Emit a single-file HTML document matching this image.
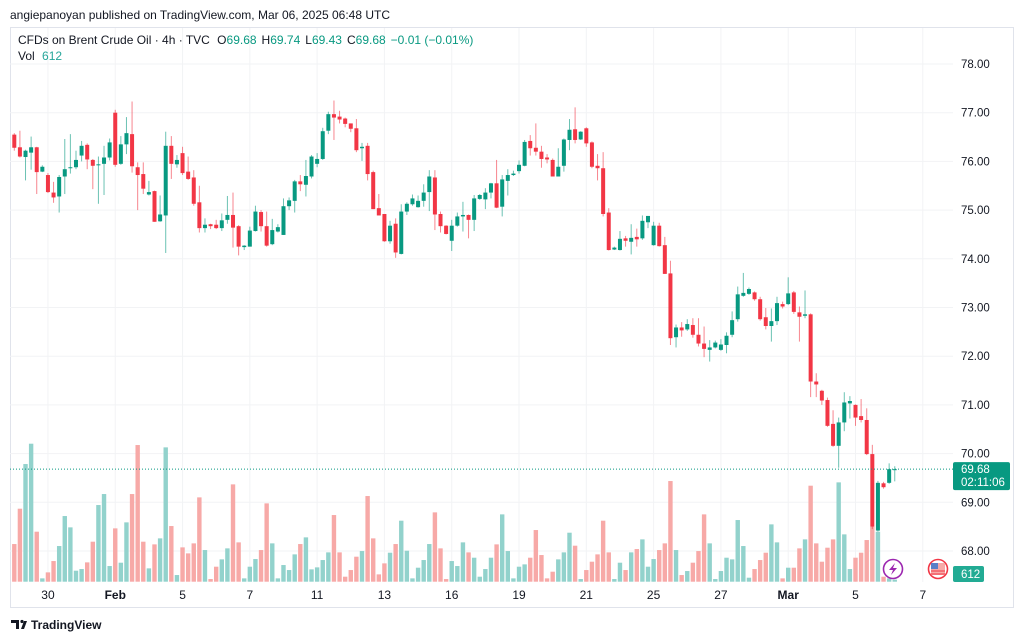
<!DOCTYPE html>
<html><head><meta charset="utf-8"><style>
html,body{margin:0;padding:0;background:#fff;}
svg{display:block;font-family:"Liberation Sans",sans-serif;}
</style></head><body>
<svg id="chart" width="1024" height="641" viewBox="0 0 1024 641" xmlns="http://www.w3.org/2000/svg">
<defs><clipPath id="plotclip"><rect x="10" y="27" width="943" height="555"/></clipPath></defs>
<rect x="0" y="0" width="1024" height="641" fill="#ffffff"/>
<text x="10" y="19" font-size="12" fill="#131722">angiepanoyan published on TradingView.com, Mar 06, 2025 06:48 UTC</text>
<rect x="10.5" y="27.5" width="1003" height="580" fill="none" stroke="#e0e3eb"/>
<g id="grid"></g>
<g id="vol" clip-path="url(#plotclip)"></g>
<g id="candles" clip-path="url(#plotclip)"></g>
<g id="axes"></g>
<text x="18" y="44" font-size="12" fill="#131722">CFDs on Brent Crude Oil · 4h · TVC <tspan dx="4">O</tspan><tspan fill="#089981">69.68</tspan><tspan dx="5">H</tspan><tspan fill="#089981">69.74</tspan><tspan dx="5">L</tspan><tspan fill="#089981">69.43</tspan><tspan dx="5">C</tspan><tspan fill="#089981">69.68</tspan><tspan dx="5" fill="#089981">−0.01 (−0.01%)</tspan></text>
<text x="18" y="60" font-size="12" fill="#131722">Vol <tspan dx="4" fill="#26a69a">612</tspan></text>
<g><circle cx="893" cy="569" r="9.5" fill="#fff" stroke="#9c27b0" stroke-width="1.6"/><path d="M895 563 L889 570 L893 570 L891 575 L897 568 L893 568 Z" fill="#9c27b0"/></g>
<g><circle cx="938" cy="569" r="9.5" fill="#fff" stroke="#f23645" stroke-width="1.6"/><rect x="931" y="563" width="14" height="12" fill="#f7a9a7"/><rect x="931" y="563" width="7" height="6" fill="#5b7fc7"/><line x1="931" y1="571" x2="945" y2="571" stroke="#f23645"/><line x1="931" y1="574" x2="945" y2="574" stroke="#f23645"/></g>
<g><path d="M11 620 h8 v9 h-3 v-6 h-5 z" fill="#131722"/><circle cx="22" cy="621.5" r="1.6" fill="#131722"/><path d="M21 629 l3-8 h3 l-3 8 z" fill="#131722"/><text x="31" y="629" font-size="12" font-weight="bold" fill="#131722">TradingView</text></g>
</svg>
<script>
var opens=[76.55,76.29,76.09,76.18,76.29,75.79,75.72,75.36,75.28,75.69,75.86,75.88,76.12,76.34,76.03,75.93,75.95,76.08,77.00,75.95,76.35,76.56,75.88,75.74,75.32,75.39,74.77,74.89,76.32,75.94,
76.17,75.79,75.67,75.16,74.63,74.71,74.70,74.63,74.80,74.90,74.67,74.24,74.25,74.57,74.96,74.67,74.30,74.56,74.49,75.08,75.19,75.59,75.52,75.69,75.95,76.05,76.63,76.97,76.92,76.88,76.78,
76.68,76.27,76.32,75.78,75.04,74.92,74.36,74.72,74.10,74.97,75.12,75.06,75.19,75.37,75.67,74.92,74.68,74.37,74.68,74.87,74.90,74.80,75.23,75.22,75.36,75.55,75.07,75.60,75.72,75.80,75.91,76.42,
76.28,76.20,76.08,76.03,75.69,75.91,76.44,76.66,76.45,76.68,76.39,75.91,75.86,74.95,74.19,74.18,74.42,74.35,74.45,74.42,74.75,74.28,74.68,74.28,73.70,72.39,72.59,72.55,72.64,72.44,72.26,
72.13,72.18,72.13,72.23,72.44,72.76,73.24,73.28,73.31,73.17,72.80,72.62,72.72,73.07,73.07,73.31,72.90,72.83,72.86,71.48,71.29,71.10,70.61,70.16,70.64,71.03,71.00,70.77,70.69,69.99,68.42,69.39,69.40,69.68];
var closes=[76.28,76.10,76.22,76.29,75.78,75.89,75.37,75.26,75.68,75.84,75.88,76.03,76.32,76.04,75.91,75.94,76.08,76.39,75.93,76.35,76.58,75.90,75.72,75.44,75.37,74.76,74.91,76.32,75.95,76.03,
75.76,75.64,75.13,74.63,74.70,74.67,74.63,74.79,74.90,74.64,74.25,74.27,74.58,74.97,74.67,74.27,74.59,74.65,75.08,75.20,75.59,75.53,75.70,76.10,76.05,76.62,76.97,76.90,76.86,76.77,76.67,
76.23,76.30,75.74,75.02,74.89,74.36,74.68,74.13,74.97,75.13,75.24,75.19,75.36,75.69,74.91,74.67,74.51,74.68,74.87,74.90,74.80,75.24,75.31,75.36,75.55,75.05,75.63,75.72,75.75,75.93,76.40,76.27,
76.20,76.05,76.04,75.69,75.89,76.45,76.65,76.44,76.61,76.37,75.89,75.86,74.92,74.18,74.23,74.41,74.37,74.43,74.40,74.78,74.88,74.68,74.26,73.69,72.37,72.59,72.53,72.66,72.44,72.26,72.15,
72.18,72.28,72.24,72.42,72.74,73.27,73.30,73.38,73.17,72.76,72.62,72.72,73.09,73.02,73.29,72.91,72.81,72.86,71.48,71.42,71.09,70.57,70.16,70.64,71.05,71.08,70.74,70.69,69.99,68.50,69.40,69.31,69.68,69.68];
var highs=[76.58,76.63,76.24,76.51,76.30,75.92,75.76,75.58,75.72,76.46,76.56,76.22,76.42,76.37,76.05,76.10,76.32,76.47,77.06,76.52,76.91,77.23,75.98,75.98,75.60,75.40,75.30,76.61,76.52,76.13,
76.30,76.10,75.82,75.50,74.83,74.72,74.80,74.93,75.29,75.36,74.69,74.28,74.66,75.09,75.00,74.97,74.82,74.71,75.24,75.26,75.62,75.72,76.03,76.13,76.17,76.69,77.02,77.25,77.04,76.90,76.78,
76.87,76.38,76.38,75.81,75.33,74.92,74.78,74.83,75.12,75.16,75.32,75.30,75.53,75.82,75.82,74.97,74.69,74.80,74.95,75.17,74.91,75.31,75.33,75.45,75.56,76.03,75.72,75.84,75.81,76.02,76.44,76.54,
76.78,76.32,76.15,76.06,76.27,76.47,76.87,77.11,76.62,76.70,76.41,76.15,76.19,75.04,74.25,74.57,74.47,74.71,74.62,74.89,74.88,74.76,74.74,74.45,73.96,72.65,72.70,72.76,72.78,72.78,72.61,
72.33,72.32,72.35,72.49,72.92,73.43,73.71,73.41,73.33,73.22,72.99,72.98,73.22,73.12,73.62,73.34,73.02,73.35,72.88,71.65,71.31,71.15,70.89,70.74,71.26,71.18,71.01,71.12,70.93,70.18,69.44,69.42,69.80,69.74];
var lows=[76.22,76.08,75.61,75.83,75.33,75.78,75.35,75.15,74.95,75.33,75.75,75.84,76.00,75.84,75.43,75.13,75.31,76.02,75.89,75.93,76.15,75.77,75.00,75.33,75.30,74.76,74.76,74.12,75.64,75.87,
75.72,75.62,75.09,74.54,74.54,74.61,74.61,74.57,74.72,74.23,74.07,74.18,74.25,74.56,74.56,74.25,74.28,74.54,74.49,75.00,74.95,75.39,75.28,75.65,75.88,76.03,76.56,76.44,76.78,76.70,76.60,
76.19,76.01,75.61,75.02,74.89,74.35,74.31,74.02,74.09,74.90,75.09,75.05,75.07,74.98,74.59,74.54,74.50,74.16,74.66,74.56,74.42,74.57,75.21,75.02,75.24,75.04,74.87,75.30,75.70,75.75,75.90,76.12,
76.12,75.87,75.96,75.69,75.69,75.79,76.23,76.37,76.44,76.30,75.86,75.61,74.87,74.17,74.18,74.17,74.25,74.09,74.25,74.39,74.63,74.27,74.25,73.69,72.23,72.18,72.40,72.52,72.38,72.20,71.98,
71.89,72.16,72.11,72.06,72.39,72.71,73.22,73.26,73.14,72.73,72.55,72.30,72.64,72.98,73.05,72.87,72.30,72.78,71.16,71.16,71.00,70.55,70.14,69.71,70.46,70.72,70.57,70.64,69.97,68.45,68.40,69.28,69.38,69.43];
var volumes=[11.3,21.9,35.3,41.4,15,1,2.8,6.2,10.7,19.7,16.3,3.3,3.8,5.8,12,23,26.3,4.7,16,5.7,17.8,26.3,41,12,4,11.2,13,40.3,16.7,2,
10.3,8.5,11.5,25.3,9.5,0.8,4.5,6.7,10,29.2,11.8,1,4.5,6.8,9.5,23.5,11.5,1,5,3.5,8.2,11.3,13.3,3.7,4.3,6.5,8.8,20,8.8,1.5,3.5,
7.5,9.2,25.7,13,2.2,5.5,8.7,11.3,18.3,9.3,1,4.2,6.5,11.3,20.8,10,0.8,6.2,4.7,11.8,8.8,7.2,1.5,3.8,7.2,11.2,20.2,9.2,1,4.5,5.2,7.2,
15.5,8,1,3,6.7,8.8,14.7,10.8,0.8,3.5,6,8.2,18.3,8.8,0.8,5.7,3.5,8.8,9.8,12.7,4.5,6.8,9.5,11.5,30.2,9.5,2,3.2,5.7,9.2,20.2,
11.5,0.8,3.2,7.2,6.7,18.5,10.7,1.2,3.8,6.5,8.7,17.2,11.8,1,4.2,4.2,10,12.7,28.8,11.5,6,10.2,12.7,29.8,14.2,3.8,7.2,8.7,12.5,16.5,15,1.5,1,0.612];
var priceTicks=[68,69,70,71,72,73,74,75,76,77,78];
var dateTickIndex=[6,18,30,42,54,66,78,90,102,114,126,138,150,162];
var dateTickLabels=["30","Feb","5","7","11","13","16","19","21","25","27","Mar","5","7"];
var lastPrice=69.68;
var countdown="02:11:06";
var lastVolumeLabel="612";

var NS="http://www.w3.org/2000/svg";
function xOf(i){return 14.3+i*5.608;}
function yOf(p){return 64+(78-p)*48.7;}
function yVol(v){return 581.7-v/0.3;}
function mk(tag,attrs,parent){var e=document.createElementNS(NS,tag);for(var k in attrs)e.setAttribute(k,attrs[k]);parent.appendChild(e);return e;}
var grid=document.getElementById('grid'),vol=document.getElementById('vol'),cg=document.getElementById('candles'),ax=document.getElementById('axes');

priceTicks.forEach(function(p){
  var l=mk('line',{x1:10,x2:953,y1:yOf(p),y2:yOf(p),stroke:'#f2f3f5','stroke-width':1},grid);
  
  
  var t=mk('text',{x:961,y:yOf(p)+4,'font-size':'11.5',fill:'#131722'},ax);
  t.textContent=p.toFixed(2);
  
  
});
dateTickIndex.forEach(function(ix,k){
  var x=xOf(ix);
  var l=mk('line',{x1:x,x2:x,y1:28,y2:582,stroke:'#f2f3f5','stroke-width':1},grid);
  
  
  var lab=dateTickLabels[k];
  var t=mk('text',{x:x,y:599,'font-size':'12','text-anchor':'middle',fill:'#131722','font-weight':(lab==='Feb'||lab==='Mar')?'bold':'normal'},ax);
  t.textContent=lab;
  
  
});

for(var i=0;i<opens.length;i++){
  var up=closes[i]>=opens[i];
  var vb=mk('rect',{x:xOf(i)-2.2,y:yVol(volumes[i]),width:4.4,height:581.7-yVol(volumes[i]),fill:up?'#92d2cc':'#f7a9a7'},vol);
  
  
}
for(var j=0;j<opens.length;j++){
  var u=closes[j]>=opens[j],col=u?'#089981':'#f23645',cx=xOf(j);
  var g=mk('g',{},cg);
  
  
  mk('line',{x1:cx,x2:cx,y1:yOf(highs[j]),y2:yOf(lows[j]),stroke:col,'stroke-width':1,'stroke-opacity':0.6},g);
  var bodyTop=yOf(Math.max(opens[j],closes[j])),bodyBot=yOf(Math.min(opens[j],closes[j]));
  mk('rect',{x:cx-2,y:bodyTop,width:4,height:Math.max(1,bodyBot-bodyTop),fill:col},g);
}
var ly=yOf(lastPrice);
var pl=mk('line',{x1:10,x2:953,y1:ly,y2:ly,stroke:'#089981','stroke-width':1,'stroke-dasharray':'1 2'},ax);


var pb=mk('rect',{x:953,y:ly-7,width:57,height:28,rx:2,fill:'#089981'},ax);


var t1=mk('text',{x:961,y:ly+4,'font-size':'11.5',fill:'#fff'},ax);t1.textContent=lastPrice.toFixed(2);


var t2=mk('text',{x:961,y:ly+17,'font-size':'11.5',fill:'#fff'},ax);t2.textContent=countdown;


var vbadge=mk('rect',{x:953,y:566,width:31,height:16,rx:2,fill:'#22ab94'},ax);


var t3=mk('text',{x:961,y:578,'font-size':'11.5',fill:'#fff'},ax);t3.textContent=lastVolumeLabel;


</script>
</body></html>
